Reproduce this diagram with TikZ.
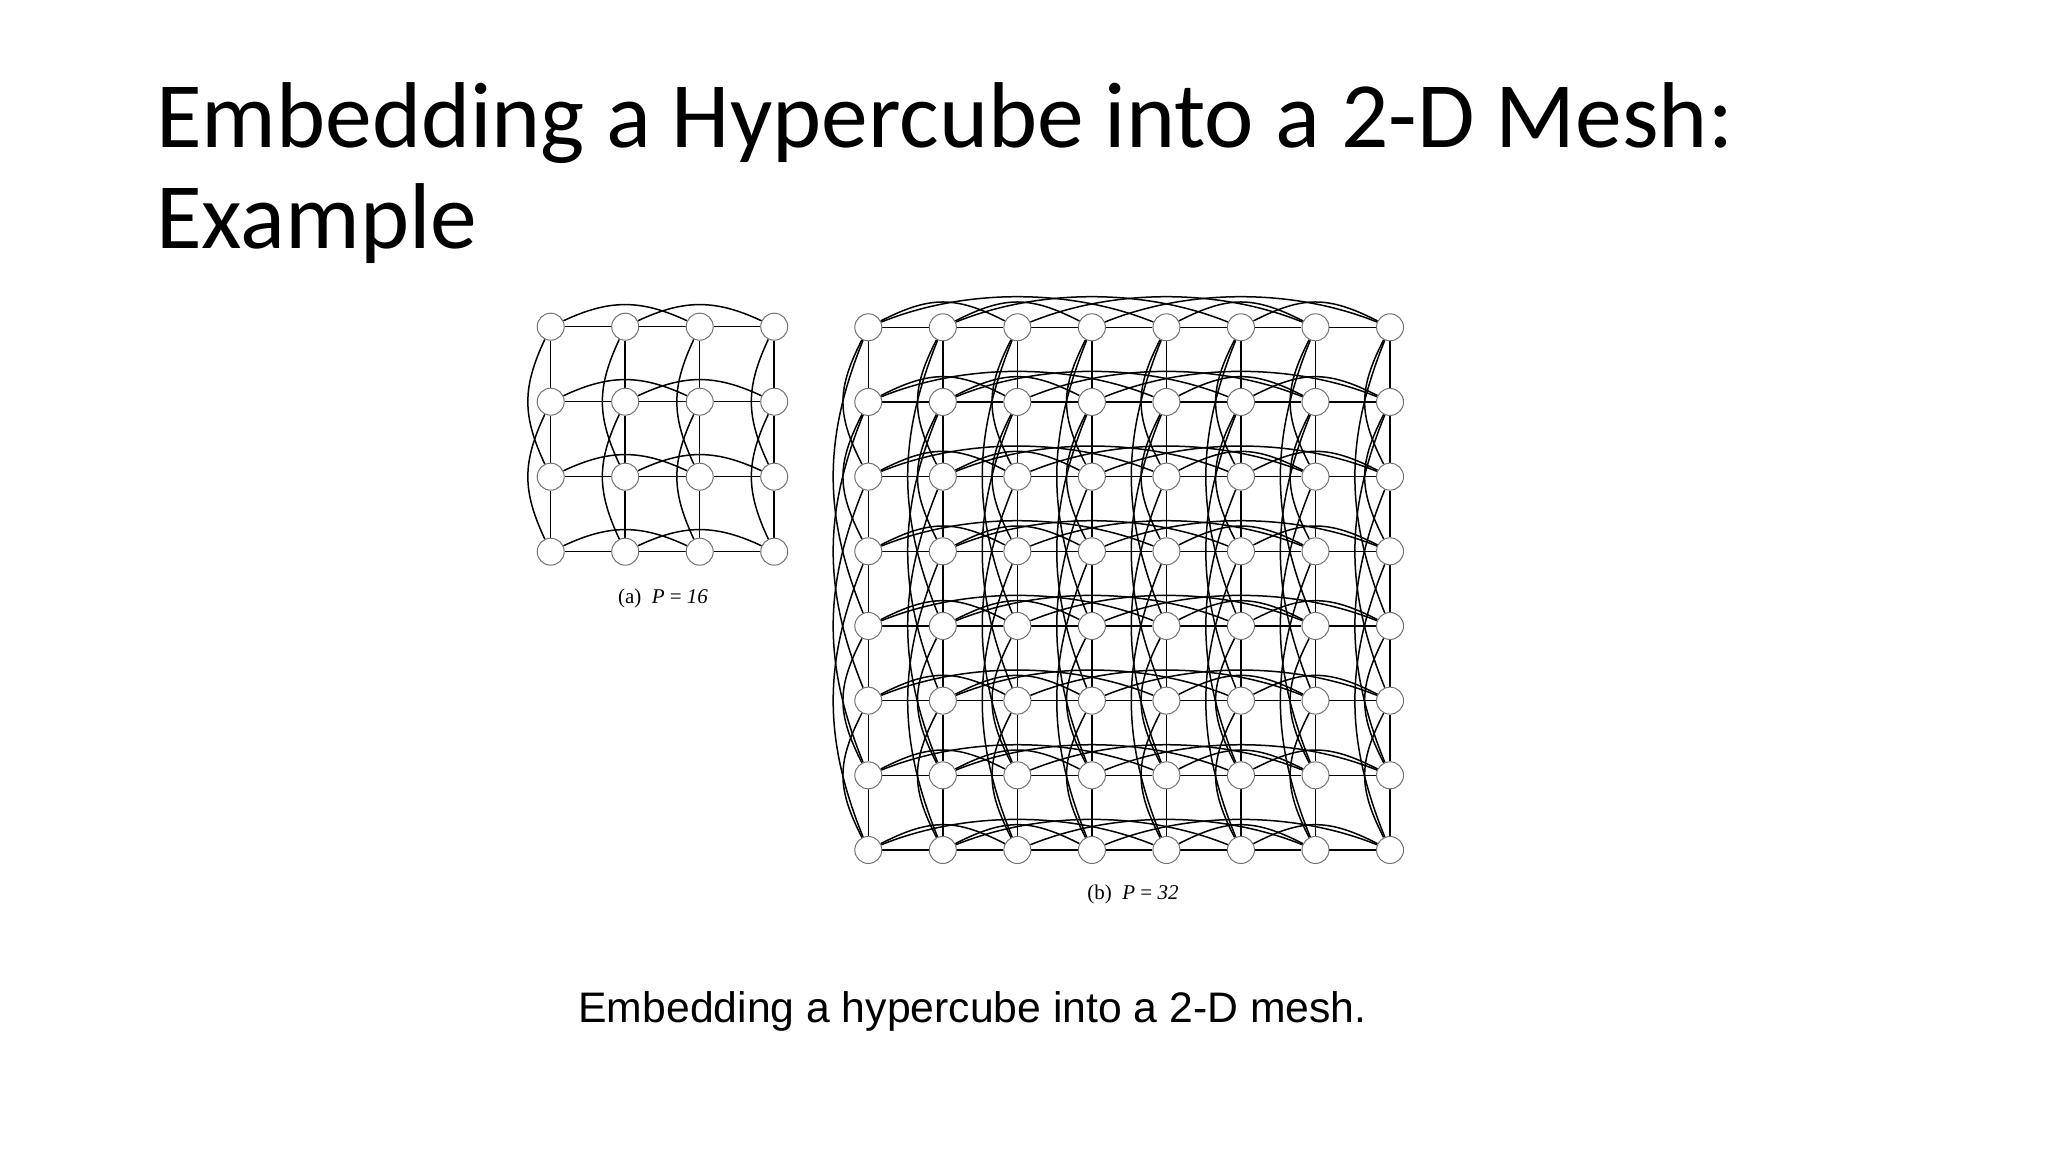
\documentclass[tikz,border=0pt]{standalone}
\usepackage{fontspec}
\setmainfont{Liberation Serif}
\newfontfamily\titlefont{Carlito}
\newfontfamily\capfont{Liberation Sans}
\usetikzlibrary{backgrounds}
\begin{document}
\begin{tikzpicture}[x=1pt,y=1pt,
  vert/.style={circle, draw=black!55, line width=1pt, fill=white, minimum size=27pt, inner sep=0pt},
  edge/.style={line width=1.5pt, black},
  rowshort/.style={out=27,in=153,looseness=1.15},
  rowlong/.style={out=22,in=158,looseness=0.85},
  colshort/.style={out=243,in=117,looseness=1.15},
  collong/.style={out=248,in=112,looseness=1.0},
  rowa/.style={out=25,in=155,looseness=1.06},
  cola/.style={out=245,in=115,looseness=1.1}]
\useasboundingbox (0,0) rectangle (2048,1152);
% title
\node[anchor=base west, inner sep=0pt, font=\titlefont\fontsize{93.5}{110}\selectfont] (t1) at (156,1004) {Embedding a Hypercube into a 2-D Mesh:};
\node[anchor=base west, inner sep=0pt, font=\titlefont\fontsize{93.5}{110}\selectfont] (t2) at (156,903) {Example};
% nodes (a)
\foreach \r in {0,...,3}{
  \foreach \c in {0,...,3}{
    \node[vert] (a\r-\c) at ({550.7+74.5*\c},{825.3-75*\r}) {};
  }
}
% nodes (b)
\foreach \r in {0,...,7}{
  \foreach \c in {0,...,7}{
    \node[vert] (b\r-\c) at ({868.3+74.53*\c},{824.7-74.67*\r}) {};
  }
}
% captions
\node[anchor=base, inner sep=0pt, font=\fontsize{21}{25}\selectfont] (capa) at (663,548) {(a)\ \ \textit{P} = \textit{16}};
\node[anchor=base, inner sep=0pt, font=\fontsize{21}{25}\selectfont] (capb) at (1133,252) {(b)\ \ \textit{P} = \textit{32}};
\node[anchor=base west, inner sep=0pt, font=\capfont\fontsize{42.7}{50}\selectfont] (cap) at (578.3,129.7) {Embedding a hypercube into a 2-D mesh.};
\begin{scope}[on background layer]
\fill[white] (0,0) rectangle (2048,1152);
% (a) mesh
\foreach \r in {0,...,3}{
  \foreach \c/\d in {0/1,1/2,2/3}{
    \draw[edge] (a\r-\c) -- (a\r-\d);
    \draw[edge] (a\c-\r) -- (a\d-\r);
  }
  \draw[edge] (a\r-0) to[rowa] (a\r-2);
  \draw[edge] (a\r-1) to[rowa] (a\r-3);
  \draw[edge] (a0-\r) to[cola] (a2-\r);
  \draw[edge] (a1-\r) to[cola] (a3-\r);
}
% (b) mesh
\foreach \r in {0,...,7}{
  \foreach \c/\d in {0/1,1/2,2/3,3/4,4/5,5/6,6/7}{
    \draw[edge] (b\r-\c) -- (b\r-\d);
    \draw[edge] (b\c-\r) -- (b\d-\r);
  }
  \foreach \p/\q in {0/2,1/3,4/6,5/7}{
    \draw[edge] (b\r-\p) to[rowshort] (b\r-\q);
    \draw[edge] (b\p-\r) to[colshort] (b\q-\r);
  }
  \foreach \p/\q in {0/4,1/5,2/6,3/7}{
    \draw[edge] (b\r-\p) to[rowlong] (b\r-\q);
    \draw[edge] (b\p-\r) to[collong] (b\q-\r);
  }
}
\end{scope}
\end{tikzpicture}
\end{document}
